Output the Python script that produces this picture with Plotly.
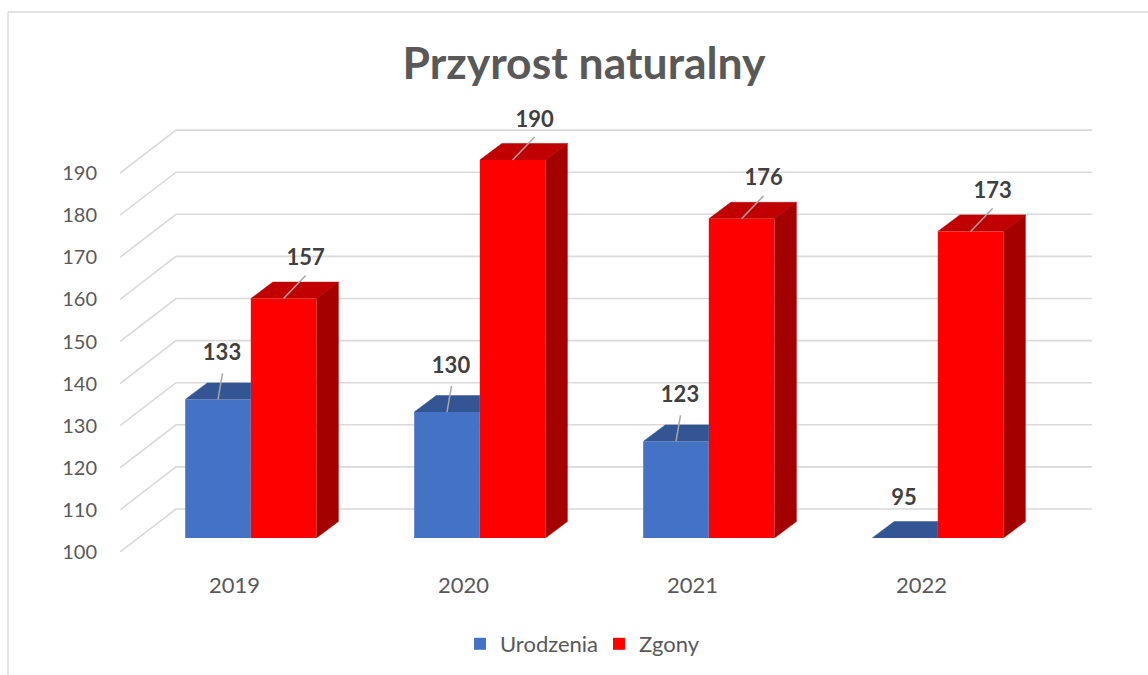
import plotly.graph_objects as go

years = [2019, 2020, 2021, 2022]
urodzenia = [133, 130, 123, 95]
zgony = [157, 190, 176, 173]
y_ticks = [100, 110, 120, 130, 140, 150, 160, 170, 180, 190]

W, H = 1148, 675
PX_X = 229.0          # pixels per category
PX_Y = 4.21           # pixels per value unit, wall and tick labels
PX_Y2 = 4.2           # pixels per value unit, bars
FONT = "Lato"
X_L, X_R = 120, 1092  # plot span, pixels
Y_FRONT, Y_FLOOR, Y_TOP = 552, 538, 90

x_min = years[0] - 0.5
x_max = x_min + (X_R - X_L) / PX_X
ux = lambda px: px / PX_X
uy = lambda px: px / PX_Y
uy2 = lambda px: px / PX_Y2

BAR_SHIFT = ux(16.3)
BAR_W = ux(65.6)
DEPTH_X, DEPTH_Y = ux(22), uy2(16.5)
WALL_X, WALL_Y = ux(56), uy(43)

fig = go.Figure()

# wall and floor gridlines, on the front-plane axis
for t in y_ticks:
    fig.add_trace(go.Scatter(
        x=[x_min, x_min + WALL_X, x_max], y=[t, t + WALL_Y, t + WALL_Y],
        mode="lines", line=dict(color="#d9d9d9", width=1.6),
        hoverinfo="skip", showlegend=False, xaxis="x", yaxis="y"))

# bars on the axis whose base is the bars' front edge
for name, vals, col, off in [("Urodzenia", urodzenia, "#4472C4", -BAR_W),
                             ("Zgony", zgony, "#FF0000", 0.0)]:
    fig.add_trace(go.Bar(
        name=name, x=[y + BAR_SHIFT for y in years], y=vals, width=BAR_W,
        offset=off, marker=dict(color=col, line=dict(width=0)),
        xaxis="x", yaxis="y2", hoverinfo="x+y"))


def face(xs, ys, col):
    fig.add_trace(go.Scatter(
        x=xs, y=ys, mode="lines", fill="toself", fillcolor=col,
        line=dict(color=col, width=0.5), hoverinfo="skip",
        showlegend=False, xaxis="x", yaxis="y2"))


for yr, u, z in zip(years, urodzenia, zgony):
    c = yr + BAR_SHIFT
    ub = max(u, 100)
    # blue top, cut off where the red bar stands in front of it
    face([c - BAR_W, c - BAR_W + DEPTH_X, c, c],
         [ub, ub + DEPTH_Y, ub + DEPTH_Y, ub], "#335593")
    # red top and side
    face([c, c + DEPTH_X, c + BAR_W + DEPTH_X, c + BAR_W],
         [z, z + DEPTH_Y, z + DEPTH_Y, z], "#C00000")
    face([c + BAR_W, c + BAR_W + DEPTH_X, c + BAR_W + DEPTH_X, c + BAR_W],
         [z, z + DEPTH_Y, 100 + DEPTH_Y, 100], "#A50000")


def leader(x0, y0, x1, y1):
    fig.add_trace(go.Scatter(
        x=[x0, x1], y=[y0, y1], mode="lines",
        line=dict(color="#a6a6a6", width=1.5), hoverinfo="skip",
        showlegend=False, xaxis="x", yaxis="y2"))


def label(x, y, v):
    fig.add_trace(go.Scatter(
        x=[x], y=[y], mode="text", text=[str(v)], cliponaxis=False,
        textposition="middle center",
        textfont=dict(family=FONT, size=22, color="#404040", weight="bold"),
        hoverinfo="skip", showlegend=False, xaxis="x", yaxis="y2"))


for yr, u, z in zip(years, urodzenia, zgony):
    c = yr + BAR_SHIFT
    ux0 = c - BAR_W / 2
    if u >= 100:
        leader(ux0, u, ux0 + ux(4.5), u + uy2(26))
        label(ux0 + ux(4), u + uy2(44.5), u)
    else:
        label(ux0 - ux(1), 100 + uy2(38.5), u)
    zx0 = c + BAR_W / 2
    leader(zx0, z, zx0 + ux(22), z + uy2(23))
    label(zx0 + ux(22), z + uy2(39), z)

fig.update_layout(
    width=W, height=H, autosize=False,
    margin=dict(l=0, r=0, t=0, b=0, autoexpand=False),
    paper_bgcolor="white", plot_bgcolor="rgba(0,0,0,0)",
    font=dict(family=FONT, color="#595959", size=20),
    title=dict(text="<b>Przyrost naturalny</b>", x=584 / W, xanchor="center",
               y=1 - 63 / H, yanchor="middle",
               font=dict(family=FONT, size=44.5, color="#595959")),
    barmode="overlay",
    xaxis=dict(domain=[X_L / W, X_R / W], range=[x_min, x_max],
               tickmode="array", tickvals=years, ticktext=[str(y) for y in years],
               showgrid=False, zeroline=False, showline=False,
               ticks="outside", ticklen=14, tickcolor="rgba(0,0,0,0)",
               tickfont=dict(family=FONT, size=22, color="#595959"),
               anchor="y"),
    yaxis=dict(domain=[1 - Y_FRONT / H, 1 - Y_TOP / H],
               range=[100, 100 + uy(Y_FRONT - Y_TOP)],
               tickmode="array", tickvals=y_ticks,
               showgrid=False, zeroline=False, showline=False,
               ticks="outside", ticklen=18, tickcolor="rgba(0,0,0,0)",
               tickfont=dict(family=FONT, size=20, color="#595959"),
               anchor="x"),
    yaxis2=dict(domain=[1 - Y_FLOOR / H, 1 - Y_TOP / H],
                range=[100, 100 + uy2(Y_FLOOR - Y_TOP)],
                visible=False, anchor="x"),
    legend=dict(orientation="h", x=460 / W, y=1 - 665 / H, xanchor="left",
                yanchor="bottom", entrywidth=94, entrywidthmode="pixels",
                font=dict(family=FONT, size=22, color="#595959"),
                bgcolor="rgba(0,0,0,0)", traceorder="normal"),
    shapes=[
        dict(type="line", xref="paper", yref="paper", x0=8 / W, x1=8 / W,
             y0=0, y1=1 - 12 / H, line=dict(color="#d9d9d9", width=1.3)),
        dict(type="line", xref="paper", yref="paper", x0=8 / W, x1=1,
             y0=1 - 12 / H, y1=1 - 12 / H, line=dict(color="#d9d9d9", width=1.3)),
    ],
)

fig.write_html("out.html", post_script="document.body.style.margin='0';document.body.style.overflow='hidden';",
               config={"displayModeBar": False})
